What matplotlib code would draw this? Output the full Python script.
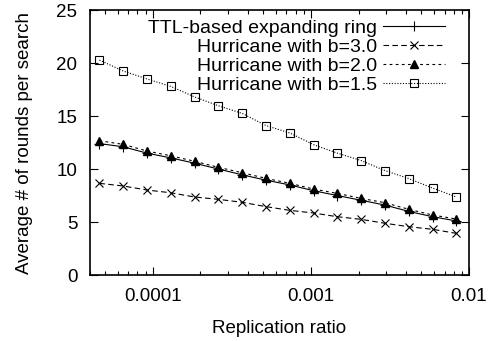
import matplotlib
matplotlib.use("Agg")
import matplotlib.pyplot as plt
from matplotlib.ticker import LogLocator, NullFormatter, FixedLocator

plt.rcParams["font.family"] = ["Liberation Sans", "DejaVu Sans"]

# replication ratio (x) and average rounds per search for each scheme
ratio = [4.6e-5, 6.5e-5, 9.2e-5, 1.3e-4, 1.84e-4, 2.6e-4, 3.68e-4, 5.2e-4,
         7.36e-4, 1.04e-3, 1.47e-3, 2.08e-3, 2.94e-3, 4.16e-3, 5.89e-3, 8.32e-3]
ttl_ring = [12.4, 12.1, 11.5, 11.05, 10.55, 10.0, 9.45, 8.95,
            8.5, 7.95, 7.5, 7.05, 6.6, 6.0, 5.5, 5.1]
hur_b30 = [8.65, 8.4, 8.02, 7.76, 7.36, 7.14, 6.86, 6.45,
           6.1, 5.85, 5.5, 5.25, 4.88, 4.56, 4.31, 3.93]
hur_b20 = [12.67, 12.33, 11.7, 11.25, 10.73, 10.16, 9.65, 9.12,
           8.65, 8.11, 7.7, 7.23, 6.82, 6.2, 5.66, 5.28]
hur_b15 = [20.28, 19.25, 18.5, 17.8, 16.8, 15.97, 15.25, 14.1,
           13.4, 12.3, 11.5, 10.8, 9.85, 9.1, 8.2, 7.36]

fig = plt.figure(figsize=(4.99, 3.41), dpi=100)
ax = fig.add_axes([0.180, 0.1935, 0.760, 0.777])

lw = 0.8
ax.plot(ratio, ttl_ring, color="black", lw=lw, ls="-", marker="+", ms=7, mew=lw,
        label="TTL-based expanding ring")
ax.plot(ratio, hur_b30, color="black", lw=lw, ls=(0, (5, 3)), marker="x", ms=6, mew=lw,
        label="Hurricane with b=3.0")
ax.plot(ratio, hur_b20, color="black", lw=lw, ls=(0, (2.5, 3)), marker="^", ms=6,
        mfc="black", mec="black", label="Hurricane with b=2.0")
ax.plot(ratio, hur_b15, color="black", lw=lw, ls=(0, (1, 1.5)), marker="s", ms=6,
        mfc="none", mec="black", mew=lw, label="Hurricane with b=1.5")

ax.set_xscale("log")
ax.set_xlim(4e-5, 0.01)
ax.set_ylim(0, 25)

ax.xaxis.set_major_locator(FixedLocator([1e-4, 1e-3, 1e-2]))
ax.set_xticklabels(["0.0001", "0.001", "0.01"])
ax.xaxis.set_minor_locator(LogLocator(base=10, subs=range(2, 10), numticks=20))
ax.xaxis.set_minor_formatter(NullFormatter())
ax.set_yticks([0, 5, 10, 15, 20, 25])

ax.tick_params(which="both", direction="in", top=True, right=True, labelsize=13.5, width=0.8)
ax.tick_params(which="major", length=6)
ax.tick_params(which="minor", length=3)
ax.tick_params(axis="y", pad=9)
ax.tick_params(axis="x", pad=9)
for s in ax.spines.values():
    s.set_linewidth(1.2)

ax.set_xlabel("Replication ratio", fontsize=13.5, labelpad=11)
ax.set_ylabel("Average # of rounds per search", fontsize=13.5, labelpad=17)

leg = ax.legend(loc="upper right", bbox_to_anchor=(0.937, 0.964), frameon=False,
                markerfirst=False, fontsize=14, handlelength=3.2, handletextpad=0.3,
                labelspacing=0.07, borderpad=0, borderaxespad=0)
for t in leg.get_texts():
    t.set_ha("right")
leg._legend_box.align = "right"

fig.savefig("out.png", dpi=100)
